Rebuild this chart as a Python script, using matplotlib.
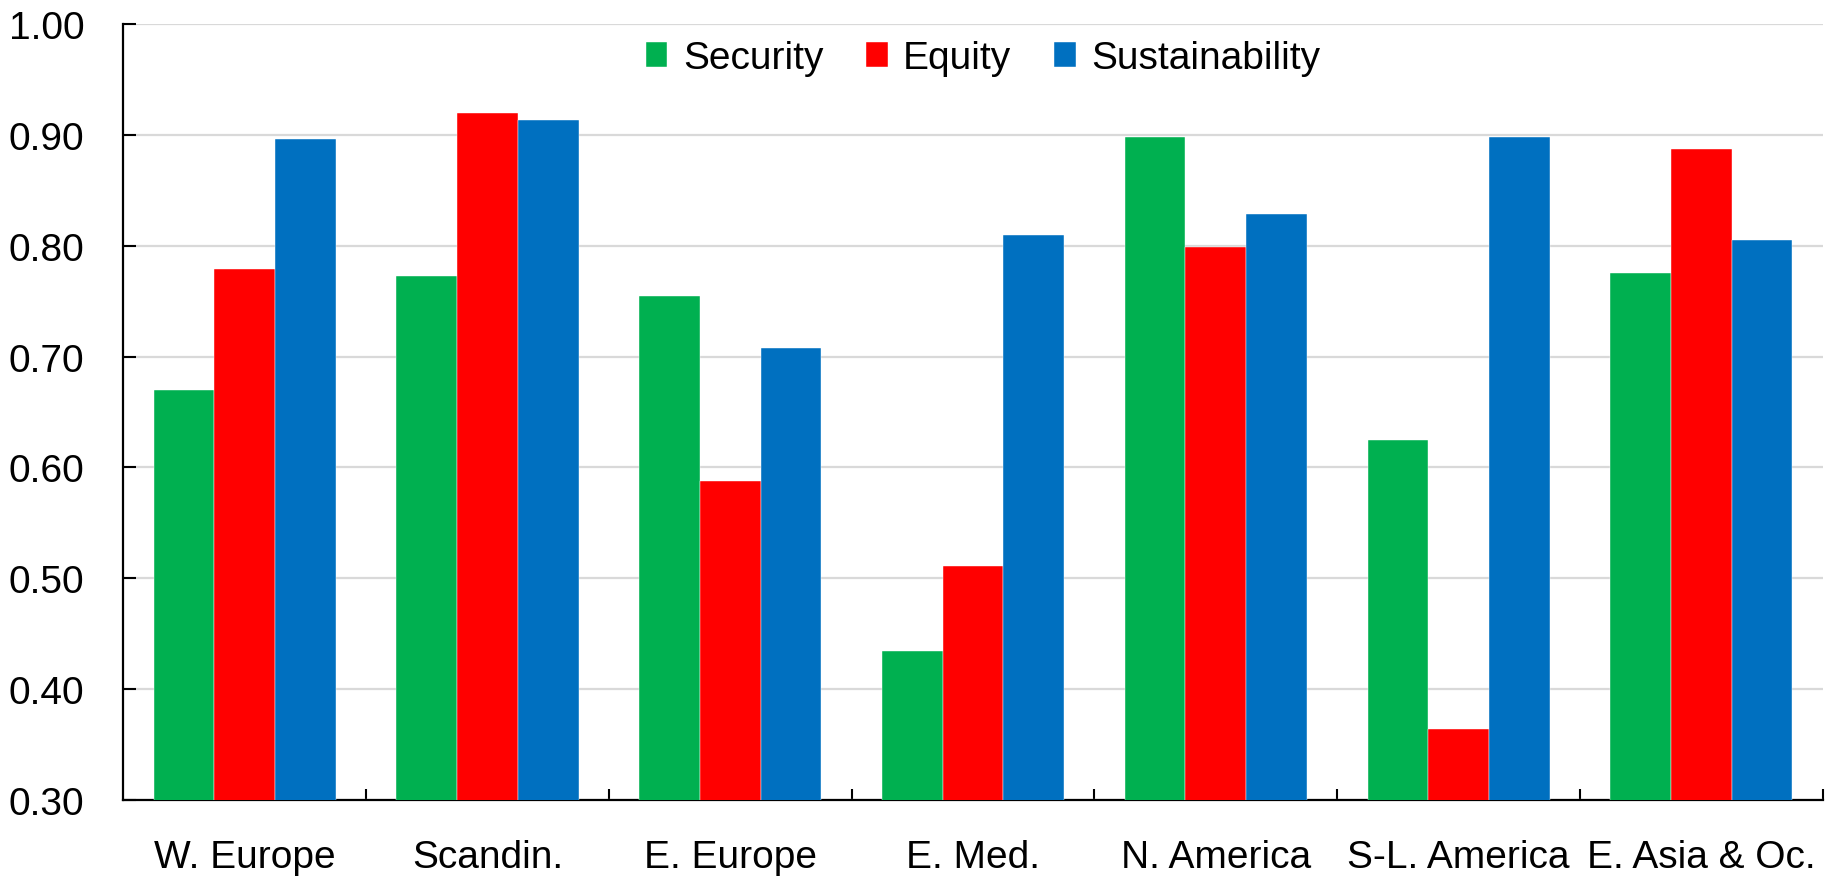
import matplotlib
matplotlib.use("Agg")
import matplotlib.pyplot as plt
import numpy as np

# Regional index scores
regions = ["W. Europe", "Scandin.", "E. Europe", "E. Med.",
           "N. America", "S-L. America", "E. Asia & Oc."]
security = [0.670, 0.773, 0.755, 0.434, 0.898, 0.625, 0.775]
equity = [0.779, 0.920, 0.588, 0.511, 0.799, 0.364, 0.887]
sustainability = [0.896, 0.913, 0.708, 0.810, 0.829, 0.898, 0.805]
series_names = ["Security", "Equity", "Sustainability"]
y_ticks = [0.30, 0.40, 0.50, 0.60, 0.70, 0.80, 0.90, 1.00]

colors = ["#00B050", "#FF0000", "#0070C0"]

plt.rcParams["font.family"] = ["Liberation Sans", "DejaVu Sans"]
FS = 28

fig = plt.figure(figsize=(18.35, 8.79), dpi=100)
ax = fig.add_axes([0.0672, 0.0887, 0.9261, 0.8829])

x = np.arange(len(regions))
width = 0.25
for i, (vals, name, col) in enumerate(zip([security, equity, sustainability],
                                          series_names, colors)):
    ax.bar(x + (i - 1) * width, vals, width, color=col, label=name,
           edgecolor="white", linewidth=0.3, zorder=3)

ax.set_xlim(-0.5, len(regions) - 0.5)
ax.set_ylim(0.30, 1.00)

# Y axis
ax.set_yticks(y_ticks)
ax.set_yticklabels([f"{v:.2f}" for v in y_ticks], fontsize=FS)
ax.tick_params(axis="y", direction="in", length=9.5, width=1.5, pad=28,
               colors="black")
ax.yaxis.grid(True, color="#D9D9D9", linewidth=1.6, zorder=0)
ax.set_axisbelow(True)

# X axis: separators between categories, labels at centres
ax.set_xticks(np.arange(0.5, len(regions), 1.0))
ax.set_xticklabels([])
ax.tick_params(axis="x", which="major", direction="in", length=8, width=1.5)
ax.set_xticks(x, minor=True)
ax.set_xticklabels(regions, minor=True, fontsize=FS)
ax.tick_params(axis="x", which="minor", length=0, pad=28)

for side in ["top", "right"]:
    ax.spines[side].set_visible(False)
for side in ["left", "bottom"]:
    ax.spines[side].set_linewidth(1.6)
    ax.spines[side].set_color("black")

ax.legend(loc="center", bbox_to_anchor=(0.506, 0.956), ncol=3, frameon=False,
          fontsize=FS, handlelength=0.55, handleheight=0.6,
          handletextpad=0.4, columnspacing=1.1, borderaxespad=0)

fig.savefig("out.png", dpi=100)
